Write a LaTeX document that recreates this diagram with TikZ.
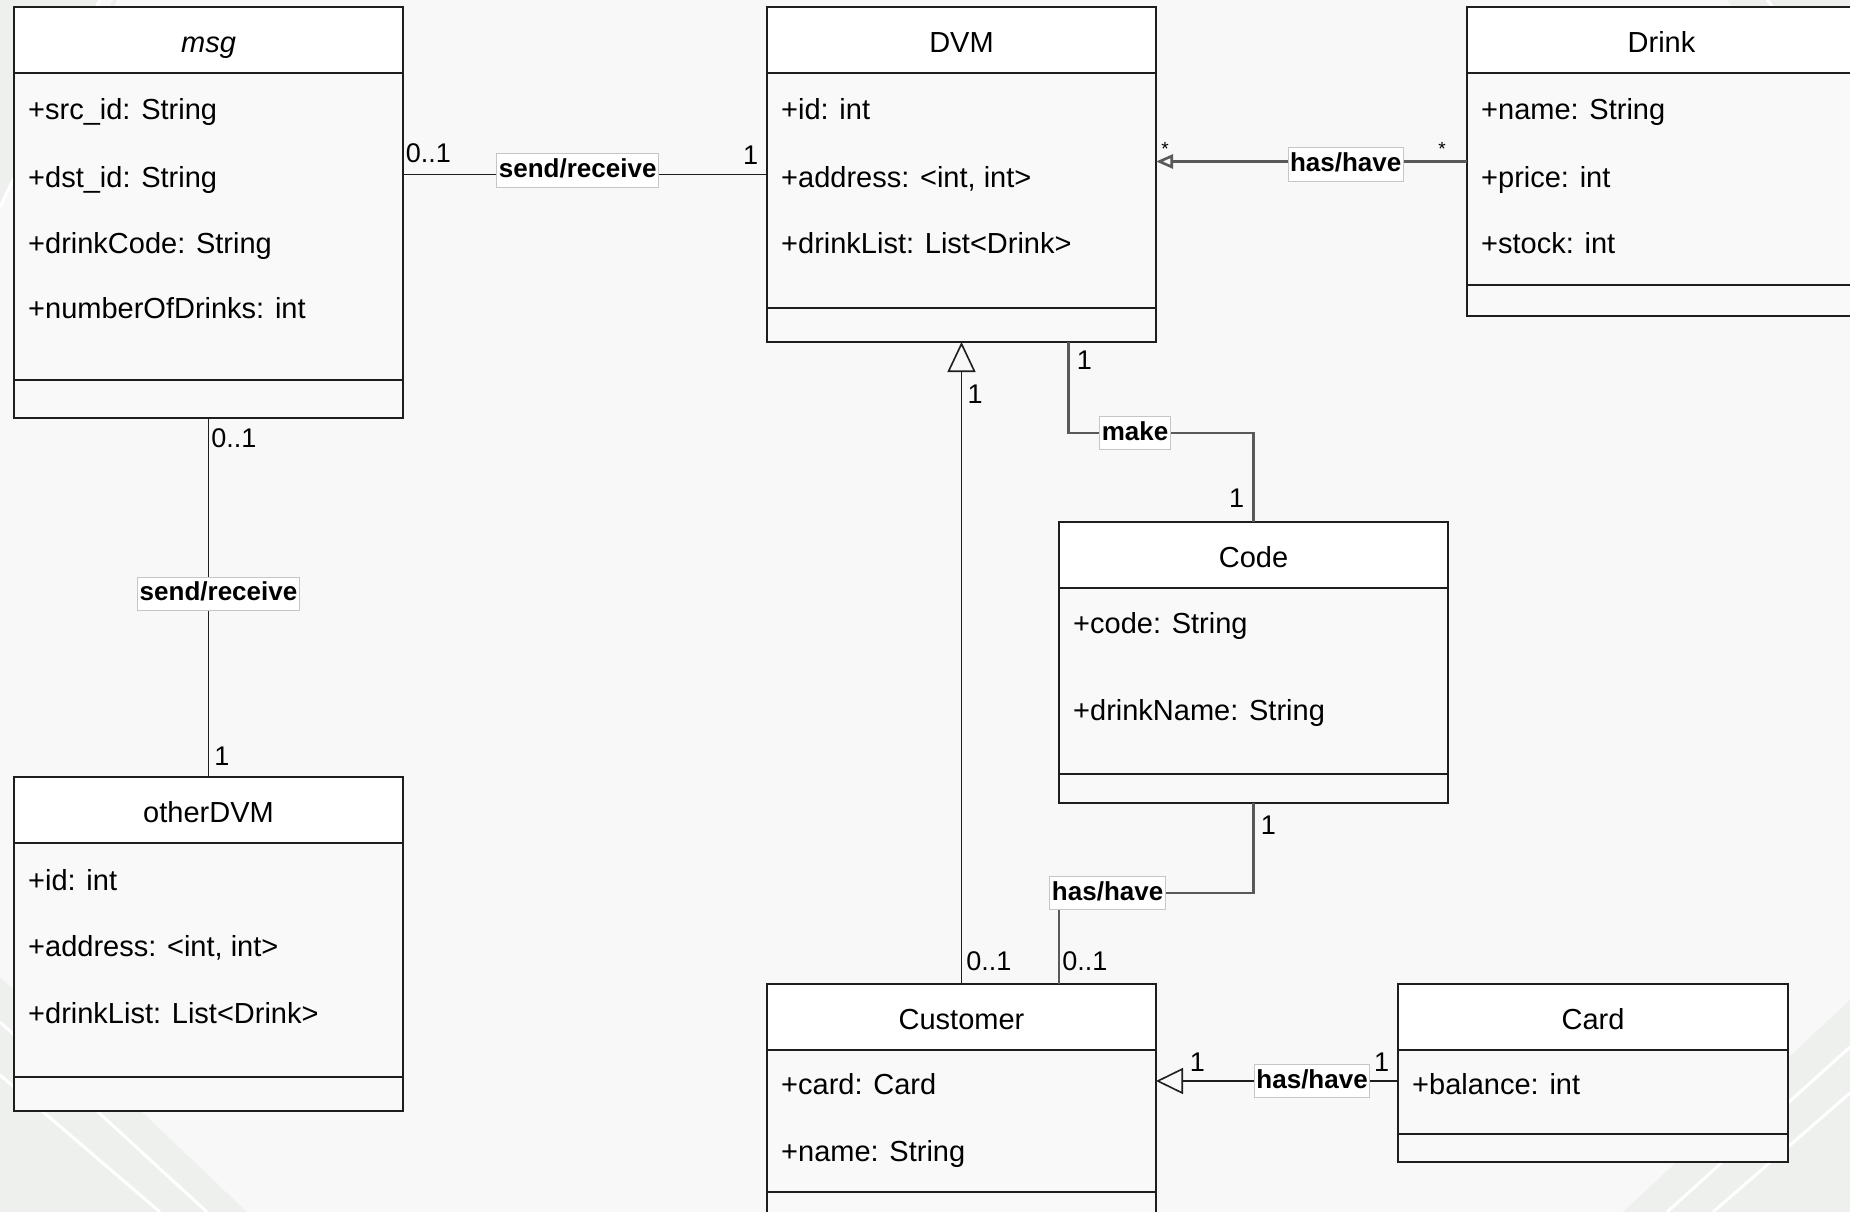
\documentclass[tikz,border=0pt]{standalone}
\usepackage{fontspec}
\setmainfont{Liberation Sans}
\usetikzlibrary{arrows.meta}
\definecolor{bgcol}{HTML}{F8F8F8}
\definecolor{bandcol}{HTML}{EEF0EE}
\definecolor{bodycol}{HTML}{F9F9F9}
\definecolor{linecol}{HTML}{1E1E1E}
\tikzset{
  cls/.style={draw=linecol, line width=2pt, fill=bodycol, minimum width=389pt,
    anchor=north west, inner sep=0pt, outer sep=0pt,
    path picture={
      \fill[white] (path picture bounding box.north west) rectangle ([yshift=-66pt]path picture bounding box.north east);
      \draw[linecol, line width=2pt] ([yshift=-66pt]path picture bounding box.north west) -- ([yshift=-66pt]path picture bounding box.north east);
    }},
  clsname/.style={anchor=base, inner sep=0pt, font=\fontsize{29}{34}\selectfont},
  attr/.style={anchor=base west, inner sep=0pt, font=\fontsize{29}{34}\selectfont},
  sep/.style={draw=linecol, line width=2pt},
  assoc/.style={draw=linecol, line width=1.6pt},
  assocgray/.style={draw=gray!70!black, line width=2.6pt},
  lbl/.style={fill=white, draw=gray!45, line width=1pt, inner xsep=2pt, inner ysep=4.5pt,
    text height=19pt, text depth=5pt, font=\bfseries\fontsize{26}{30}\selectfont},
  mult/.style={inner sep=2pt, font=\fontsize{27}{30}\selectfont},
  star/.style={inner sep=1pt, font=\fontsize{19}{22}\selectfont},
  gen/.style={-{Triangle[open, length=30pt, width=28pt]}},
  nav/.style={-{Triangle[open, length=27pt, width=26pt]}},
  navsmall/.style={-{Triangle[open, length=17pt, width=14pt]}},
}
\begin{document}
\begin{tikzpicture}[x=1pt, y=-1pt]
  \useasboundingbox (0,0) rectangle (1850,1212);
  \clip (0,0) rectangle (1850,1212);
  % background and corner stripes
  \fill[bgcol] (0,0) rectangle (1850,1212);
  \fill[bandcol] (0,0) -- (100,0) -- (0,207) -- cycle;
  \draw[white, line width=3pt] (0,207) -- (100,0);
  \draw[bandcol, line width=4pt] (115,0) -- (60,110);
  \fill[bandcol] (0,977) -- (247,1212) -- (0,1212) -- cycle;
  \draw[white, line width=3pt] (0,1022) -- (207,1212) (0,1075) -- (160,1212);
  \fill[bandcol] (1850,1000) -- (1623,1212) -- (1850,1212) -- cycle;
  \draw[white, line width=3pt] (1850,1047) -- (1667,1212) (1850,1093) -- (1713,1212);
  \fill[bandcol] (1727,0) -- (1850,0) -- (1850,157) -- cycle;
  \draw[white, line width=3pt] (1767,0) -- (1850,100);

  % classes
  \node[cls, minimum height=411pt] (msg) at (14,7) {};
  \draw[sep] ([yshift=38pt]msg.south west) -- ([yshift=38pt]msg.south east);
  \node[clsname, font=\itshape\fontsize{29}{34}\selectfont] (msg-name) at ([yshift=-46pt]msg.north) {msg};
  \node[attr] (msg-a1) at ([xshift=14pt,yshift=-113pt]msg.north west) {+src\_id: String};
  \node[attr] (msg-a2) at ([xshift=14pt,yshift=-180pt]msg.north west) {+dst\_id: String};
  \node[attr] (msg-a3) at ([xshift=14pt,yshift=-246pt]msg.north west) {+drinkCode: String};
  \node[attr] (msg-a4) at ([xshift=14pt,yshift=-311pt]msg.north west) {+numberOfDrinks: int};

  \node[cls, minimum height=335pt] (dvm) at (767,7) {};
  \draw[sep] ([yshift=34pt]dvm.south west) -- ([yshift=34pt]dvm.south east);
  \node[clsname] (dvm-name) at ([yshift=-46pt]dvm.north) {DVM};
  \node[attr] (dvm-a1) at ([xshift=14pt,yshift=-113pt]dvm.north west) {+id: int};
  \node[attr] (dvm-a2) at ([xshift=14pt,yshift=-180pt]dvm.north west) {+address: <int, int>};
  \node[attr] (dvm-a3) at ([xshift=14pt,yshift=-246pt]dvm.north west) {+drinkList: List<Drink>};

  \node[cls, minimum height=309pt] (drink) at (1467,7) {};
  \draw[sep] ([yshift=31pt]drink.south west) -- ([yshift=31pt]drink.south east);
  \node[clsname] (drink-name) at ([yshift=-46pt]drink.north) {Drink};
  \node[attr] (drink-a1) at ([xshift=14pt,yshift=-113pt]drink.north west) {+name: String};
  \node[attr] (drink-a2) at ([xshift=14pt,yshift=-180pt]drink.north west) {+price: int};
  \node[attr] (drink-a3) at ([xshift=14pt,yshift=-246pt]drink.north west) {+stock: int};

  \node[cls, minimum height=281pt] (code) at (1059,522) {};
  \draw[sep] ([yshift=29pt]code.south west) -- ([yshift=29pt]code.south east);
  \node[clsname] (code-name) at ([yshift=-45pt]code.north) {Code};
  \node[attr] (code-a1) at ([xshift=14pt,yshift=-111pt]code.north west) {+code: String};
  \node[attr] (code-a2) at ([xshift=14pt,yshift=-198pt]code.north west) {+drinkName: String};

  \node[cls, minimum height=334pt] (otherdvm) at (14,777) {};
  \draw[sep] ([yshift=34pt]otherdvm.south west) -- ([yshift=34pt]otherdvm.south east);
  \node[clsname] (otherdvm-name) at ([yshift=-45pt]otherdvm.north) {otherDVM};
  \node[attr] (otherdvm-a1) at ([xshift=14pt,yshift=-113pt]otherdvm.north west) {+id: int};
  \node[attr] (otherdvm-a2) at ([xshift=14pt,yshift=-179pt]otherdvm.north west) {+address: <int, int>};
  \node[attr] (otherdvm-a3) at ([xshift=14pt,yshift=-246pt]otherdvm.north west) {+drinkList: List<Drink>};

  \node[cls, minimum height=241pt] (customer) at (767,984) {};
  \draw[sep] ([yshift=33pt]customer.south west) -- ([yshift=33pt]customer.south east);
  \node[clsname] (customer-name) at ([yshift=-45pt]customer.north) {Customer};
  \node[attr] (customer-a1) at ([xshift=14pt,yshift=-110pt]customer.north west) {+card: Card};
  \node[attr] (customer-a2) at ([xshift=14pt,yshift=-177pt]customer.north west) {+name: String};

  \node[cls, minimum height=178pt, minimum width=390pt] (card) at (1398,984) {};
  \draw[sep] ([yshift=28pt]card.south west) -- ([yshift=28pt]card.south east);
  \node[clsname] (card-name) at ([yshift=-45pt]card.north) {Card};
  \node[attr] (card-a1) at ([xshift=14pt,yshift=-110pt]card.north west) {+balance: int};

  % associations
  \path[assoc]
    (dvm.west) edge node[lbl, pos=0.52, yshift=4pt]{send/receive}
                    node[mult, pos=0, anchor=south east, xshift=-6pt, yshift=7pt]{1}
                    node[mult, pos=1, anchor=south west, yshift=9pt]{0..1} (dvm.west -| msg.east)
    (msg.south) edge node[lbl, xshift=10pt, yshift=4pt]{send/receive}
                     node[mult, pos=0, anchor=north west, yshift=-8pt]{0..1}
                     node[mult, pos=1, anchor=south west, xshift=3pt, yshift=9pt]{1} (otherdvm.north)
    ; %end path
  \path[assocgray]
    (drink.west) edge[navsmall] node[lbl, pos=0.39, yshift=-3pt]{has/have}
                      node[star, pos=0, anchor=south east, xshift=-19pt, yshift=4pt]{*}
                      node[star, pos=1, anchor=south west, xshift=3pt, yshift=4pt]{*} (drink.west -| dvm.east)
    ; %end path
  \draw[assocgray] ([xshift=107pt]dvm.south)
      -- node[mult, pos=0, anchor=north west, xshift=5pt, yshift=-6pt]{1} ++(0,91)
      -| node[lbl, pos=0.18]{make}
         node[mult, pos=1, anchor=south east, xshift=-6pt, yshift=11pt]{1} (code.north);
  \draw[assocgray] (code.south)
      -- node[mult, pos=0, anchor=north west, xshift=4pt, yshift=-10pt]{1} ++(0,90)
      -| node[lbl, pos=0.375]{has/have}
         node[mult, pos=1, anchor=south west, yshift=10pt]{0..1} ([xshift=97.5pt]customer.north);
  \path[assoc]
    (customer.north) edge[gen] node[mult, pos=0, anchor=south west, xshift=2pt, yshift=10pt]{0..1} (dvm.south)
    ([yshift=-8pt]card.west) edge[nav] node[lbl, pos=0.355]{has/have}
                      node[mult, pos=0, anchor=south east, xshift=-6pt, yshift=7pt]{1}
                      node[mult, pos=1, anchor=south west, xshift=31pt, yshift=7pt]{1} ([yshift=-8pt]card.west -| customer.east)
    ; %end path
  \node[mult, anchor=north west] (gen-mult) at ([xshift=4pt, yshift=-41pt]dvm.south) {1};
\end{tikzpicture}
\end{document}
